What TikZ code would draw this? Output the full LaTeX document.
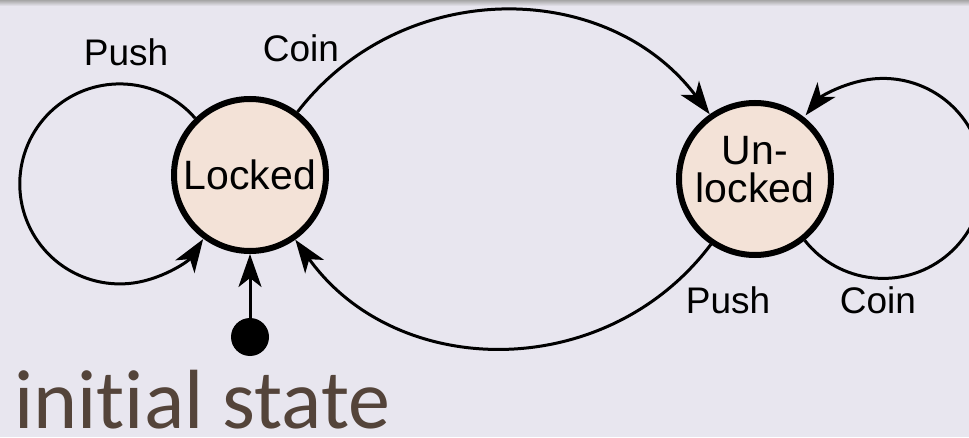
\documentclass[tikz,border=0pt]{standalone}
\usepackage{fontspec}
\setmainfont{Liberation Sans}
\newfontfamily\calib[Ligatures=NoCommon]{Carlito}
\usetikzlibrary{arrows.meta}
\definecolor{bg}{HTML}{E8E6EF}
\definecolor{statefill}{HTML}{F3E2D7}
\definecolor{browntext}{HTML}{54443A}
\begin{document}
\begin{tikzpicture}[x=1pt,y=1pt,
  state/.style={circle, draw=black, line width=6pt, fill=statefill, minimum size=152pt,
    inner sep=0pt},
  statetext/.style={font=\fontsize{41}{38}\selectfont, align=center, inner sep=0pt},
  edge/.style={line width=3pt, -{Stealth[length=33pt,width=23pt,inset=9pt]}},
  lbl/.style={font=\fontsize{37}{37}\selectfont, inner sep=0pt}]
\useasboundingbox (0,0) rectangle (969,437);
\clip (0,0) rectangle (969,437);
\fill[bg] (0,0) rectangle (969,437);
\shade[top color=gray!70, bottom color=bg] (0,431) rectangle (969,437);
\node[state] (L) at (250,262) {};
\node[statetext] (Lt) at (L) {Locked};
\node[state] (U) at (755,258) {};
\node[statetext] (Ut) at (755,267) {Un-\\locked};
\node[circle, fill=black, minimum size=38pt, inner sep=0pt] (I) at (250,100) {};
\draw[edge] (I) -- (L);
\draw[edge] (L.134.5) arc[start angle=41.1, end angle=326.5, radius=100];
\draw[edge] (L.53) .. controls +(52.4:170.7) and +(127:170.7) .. (U.125);
\draw[edge] (U.236) .. controls +(233:173.7) and +(305.6:173.7) .. (L.305.5);
\draw[edge] (U.309.1) arc[start angle=218.3, end angle=500.9, radius=100];
\node[lbl] (p1) at (126,385) {Push};
\node[lbl] (c1) at (301,389) {Coin};
\node[lbl] (p2) at (728,137) {Push};
\node[lbl] (c2) at (878,137) {Coin};
\node[anchor=base west, inner sep=0pt, text depth=0pt, text=browntext, font=\calib\fontsize{84}{84}\selectfont] (T) at (14,9) {initial state};
\end{tikzpicture}
\end{document}
